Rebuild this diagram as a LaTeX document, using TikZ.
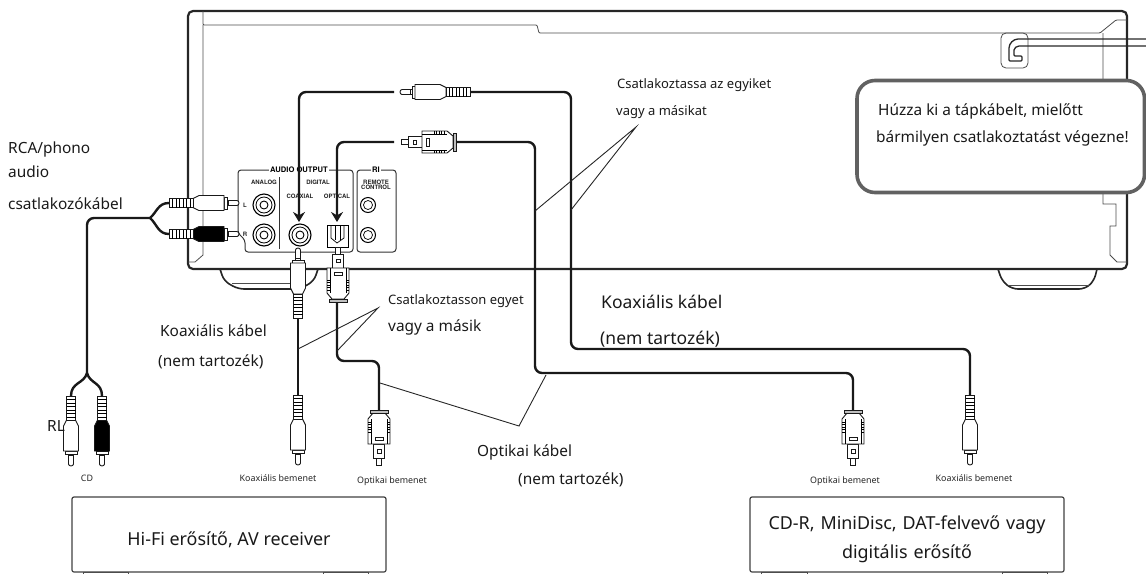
\documentclass[tikz,border=0pt]{standalone}
\usepackage{fontspec}
\setmainfont{Noto Sans}
\newfontfamily\panelfont{TeX Gyre Heros}
\usetikzlibrary{arrows.meta}
\tikzset{
  lab/.style={anchor=west,inner sep=0pt,text=black!90,font=\fontsize{15.4}{18}\selectfont},
  labbig/.style={anchor=center,inner sep=0pt,text=black!90,font=\fontsize{15.7}{29}\selectfont,align=center},
  labone/.style={anchor=west,inner sep=0pt,text=black!90,font=\fontsize{13}{15}\selectfont},
  labkab/.style={anchor=west,inner sep=0pt,text=black!90,font=\fontsize{17.5}{20}\selectfont},
  labtiny/.style={anchor=center,inner sep=0pt,text=black!85,font=\fontsize{8.9}{10}\selectfont},
  panel/.style={anchor=center,inner sep=0.5pt,font=\panelfont\bfseries\fontsize{6}{6.5}\selectfont,align=center,text=black!85},
  paneltitle/.style={anchor=center,inner sep=1pt,fill=white,font=\panelfont\bfseries\fontsize{7.6}{8}\selectfont},
  chassis/.style={line width=2.2pt,rounded corners=5pt,black!85},
  thinline/.style={line width=0.8pt,black!70},
  cable/.style={line width=2.4pt,rounded corners=7pt,black!90},
  pointer/.style={line width=0.9pt,black!85},
  devbox/.style={line width=1.2pt,black!75,rounded corners=2pt},
  plugline/.style={line width=0.9pt,black!90,fill=white},
}
\newcommand{\rcaplug}[4]{
  \begin{scope}[shift={(#1,#2)},rotate=#3]
    \draw[plugline] (58,-2.5) -- (68,-2.5) arc (-90:90:2 and 2.5) -- (58,2.5) -- cycle;
    \draw[plugline] (58,2.5) -- (59.5,2.5) -- (59.5,-2.5) -- (58,-2.5);
    \draw[plugline] (55,-6) rectangle (58,6);
    \draw[plugline,fill=#4] (24,-4.5) -- (30,-7.5) -- (55,-7.5) -- (55,7.5) -- (30,7.5) -- (24,4.5) -- cycle;
    \draw[plugline] (0,-4.5) rectangle (24,4.5);
    \foreach \i in {3.5,7,...,21} \draw[line width=0.6pt] (\i,-4.5) -- (\i,4.5);
  \end{scope}
}
\newcommand{\optplug}[3]{
  \begin{scope}[shift={(#1,#2)},rotate=#3]
    \draw[plugline] (48,-2.5) rectangle (55,2.5);
    \draw[plugline] (34,-5.5) rectangle (48,5.5);
    \draw[plugline] (39.5,-2) rectangle (43,2);
    \draw[plugline] (3,-6) -- (9,-11) -- (34,-11) -- (34,11) -- (9,11) -- (3,6) -- cycle;
    \draw[line width=0.6pt] (9,-8) -- (34,-8) (9,8) -- (34,8);
    \foreach \i in {12,14.5,...,22} \draw[line width=0.5pt] (\i,-11) -- (\i,-8) (\i,8) -- (\i,11);
    \draw[plugline] (27,-4) rectangle (30,4);
    \draw[plugline,fill=black!25] (0,-9) rectangle (3,9);
  \end{scope}
}
\begin{document}
\begin{tikzpicture}[>={Stealth[length=10pt,width=12pt]},x=1pt,y=-1pt]
  \useasboundingbox (0,0) rectangle (1146,574);
  % chassis
  \draw[chassis] (188,11) rectangle (1127,269);
  \draw[thinline,rounded corners=1pt] (203,11) -- (203,25) -- (537,25) -- (539,33) -- (1100,33) -- (1116,20) -- (1127,20);
  \draw[thinline] (203,25) -- (203,255) -- (195,262) -- (188,262);
  \draw[thinline] (1103,33) -- (1103,204) -- (1116,204) -- (1116,226) -- (1110,226) -- (1110,255) -- (1117,262) -- (1127,262);
  \draw[line width=1.6pt,black!85,rounded corners=6pt] (220,269) -- (224,281) -- (238,289) -- (300,289) -- (314,281) -- (318,269);
  \draw[thinline] (232,283) -- (306,283);
  \draw[line width=1.6pt,black!85,rounded corners=6pt] (998,269) -- (1002,281) -- (1012,289) -- (1085,289) -- (1094,281) -- (1097,269);
  \draw[thinline] (1008,285) -- (1090,285);
  % power socket
  \draw[thinline,rounded corners=5pt] (1001,33) rectangle (1028,68);
  \draw[line width=1.3pt,black!85,rounded corners=1pt] (1146,39) -- (1019,39) to[out=180,in=90] (1009,49) -- (1009,61) -- (1022,61) -- (1022,56) -- (1014,56) -- (1014,51) to[out=90,in=180] (1020,46) -- (1146,46);
  % audio panel
  \draw[line width=1pt,black!80,rounded corners=3pt] (238,170) -- (238,233) -- (245,240) -- (245,252) -- (353,252) -- (353,170) -- cycle;
  \draw[line width=1pt,black!80,rounded corners=3pt] (357,170) rectangle (396,252);
  \draw[line width=1pt,black!80] (279,177) -- (279,249);
  \node (audio) [paneltitle] at (299,170) {AUDIO OUTPUT};
  \node (ri) [paneltitle] at (376,170) {RI};
  \node (analog) [panel] at (264,182) {ANALOG};
  \node (digital) [panel] at (318,182) {DIGITAL};
  \node (coaxial) [panel] at (300,196) {COAXIAL};
  \node (optical) [panel] at (337,196) {OPTICAL};
  \node (remote) [panel] at (376,185) {REMOTE\\[-1pt]CONTROL};
  \node (chl) [panel] at (245,205) {L};
  \node (chr) [panel] at (245,234) {R};
  \foreach \cx/\cy in {264/205,264/235,300/235} {
    \draw[line width=1.1pt] (\cx,\cy) circle (11);
    \draw[line width=0.8pt] (\cx,\cy) circle (8);
    \draw[line width=0.9pt] (\cx,\cy) circle (4);
  }
  \foreach \cx/\cy in {368/205,368/235} {
    \draw[line width=1pt] (\cx,\cy) circle (7.5);
    \draw[line width=0.7pt] (\cx,\cy) circle (4.5);
  }
  \draw[line width=1pt] (327,225) rectangle (348,247);
  \draw[line width=0.7pt] (331,225) -- (331,238) -- (337,243) -- (344,238) -- (344,225);
  \draw[line width=0.7pt] (335,225) -- (335,240) (340,225) -- (340,240);
  % cables
  \coordinate (splitl) at (150,218);
  \coordinate (splitd) at (87,373);
  \coordinate (plugl) at (169,203);
  \coordinate (plugr) at (169,234);
  \coordinate (rcal) at (71,396);
  \coordinate (rcar) at (102,396);
  \coordinate (coaxin) at (299,222);
  \coordinate (optin) at (337,222);
  \coordinate (coaxup) at (394,92);
  \coordinate (optup) at (394,142);
  \coordinate (coaxr) at (470,92);
  \coordinate (optr) at (456,142);
  \coordinate (coaxfar) at (970,395);
  \coordinate (optfar) at (853,410);
  \coordinate (coaxv) at (298,318);
  \coordinate (coaxb) at (298,395);
  \coordinate (optv) at (337,302);
  \coordinate (optb) at (379,410);
  \draw[cable] (splitd) -- (87,218) -- (splitl);
  \draw[cable,rounded corners=0pt] (plugl) .. controls (158,203) and (157,212) .. (splitl);
  \draw[cable,rounded corners=0pt] (plugr) .. controls (158,234) and (157,224) .. (splitl);
  \draw[cable,rounded corners=0pt] (rcal) .. controls (71,382) and (84,384) .. (splitd);
  \draw[cable,rounded corners=0pt] (rcar) .. controls (102,382) and (90,384) .. (splitd);
  \draw[cable,->] (coaxup) -- (299,92) -- (coaxin);
  \draw[cable,->] (optup) -- (337,142) -- (optin);
  \draw[cable] (coaxr) -- (571,92) -- (571,349) -- (970,349) -- (coaxfar);
  \draw[cable] (optr) -- (535,142) -- (535,373) -- (853,373) -- (optfar);
  \draw[cable] (coaxv) -- (coaxb);
  \draw[cable] (optv) -- (337,361) -- (379,361) -- (optb);
  % plugs
  \rcaplug{169}{203}{0}{white}
  \rcaplug{169}{234}{0}{black}
  \rcaplug{71}{396}{-90}{white}
  \rcaplug{102}{396}{-90}{black}
  \rcaplug{298}{318}{90}{white}
  \rcaplug{298}{395}{-90}{white}
  \rcaplug{970}{395}{-90}{white}
  \rcaplug{470}{92}{180}{white}
  \optplug{338}{302}{90}
  \optplug{379}{410}{-90}
  \optplug{853}{410}{-90}
  \optplug{456}{142}{180}
  % pointers
  \coordinate (tipa) at (636,127);
  \coordinate (tipb) at (378,308);
  \coordinate (tipc) at (519,426);
  \draw[pointer] (535,211) -- (tipa) -- (571,210);
  \draw[pointer] (298,349) -- (tipb) -- (337,351);
  \draw[pointer] (380,383) -- (tipc) -- (546,375);
  % notice
  \draw[line width=3.6pt,black!62,fill=white,rounded corners=18pt] (857,80.5) rectangle (1144.5,192.5);
  \node (pulla) [lab] at (878,111) {Húzza ki a tápkábelt, mielőtt};
  \node (pullb) [lab] at (876,138) {bármilyen csatlakoztatást végezne!};
  % texts
  \node (rcaa) [lab] at (8,149) {RCA/phono};
  \node (rcab) [lab] at (8,172) {audio};
  \node (rcac) [lab] at (8,204) {csatlakozókábel};
  \node (onea) [labone] at (617,85) {Csatlakoztassa az egyiket};
  \node (oneb) [labone] at (616,112) {vagy a másikat};
  \node (coaxa) [labkab] at (601,302) {Koaxiális kábel};
  \node (coaxc) [labkab] at (600,339) {(nem tartozék)};
  \node (coaxd) [lab] at (160,331) {Koaxiális kábel};
  \node (coaxe) [lab] at (158,362) {(nem tartozék)};
  \node (twoa) [labone] at (388,301) {Csatlakoztasson egyet};
  \node (twob) [lab] at (388,327) {vagy a másik};
  \node (opta) [lab] at (477,452) {Optikai kábel};
  \node (optc) [lab] at (518,480) {(nem tartozék)};
  \node (rl) [lab] at (47,426) {RL};
  \node (cd) [labtiny] at (87,478) {CD};
  \node (koaxa) [labtiny] at (278,478) {Koaxiális bemenet};
  \node (optia) [labtiny] at (392,481) {Optikai bemenet};
  \node (optib) [labtiny] at (845,481) {Optikai bemenet};
  \node (koaxb) [labtiny] at (974,478) {Koaxiális bemenet};
  % devices
  \draw[devbox] (72,497) rectangle (386,572);
  \draw[devbox] (750,497) rectangle (1064,572);
  \draw[thinline] (83,574) -- (83,572) -- (128,572) -- (128,574);
  \draw[thinline] (323,574) -- (323,572) -- (368,572) -- (368,574);
  \draw[thinline] (761,574) -- (761,572) -- (807,572) -- (807,574);
  \draw[thinline] (1002,574) -- (1002,572) -- (1047,572) -- (1047,574);
  \node (hifi) [labbig,font=\fontsize{17.9}{20}\selectfont] at (229,540) {Hi-Fi erősítő, AV receiver};
  \node (recorder) [labbig,text width=300pt,font=\fontsize{17.9}{29}\selectfont] at (907,539.5) {CD-R, MiniDisc, DAT-felvevő vagy\\digitális erősítő};
\end{tikzpicture}
\end{document}
